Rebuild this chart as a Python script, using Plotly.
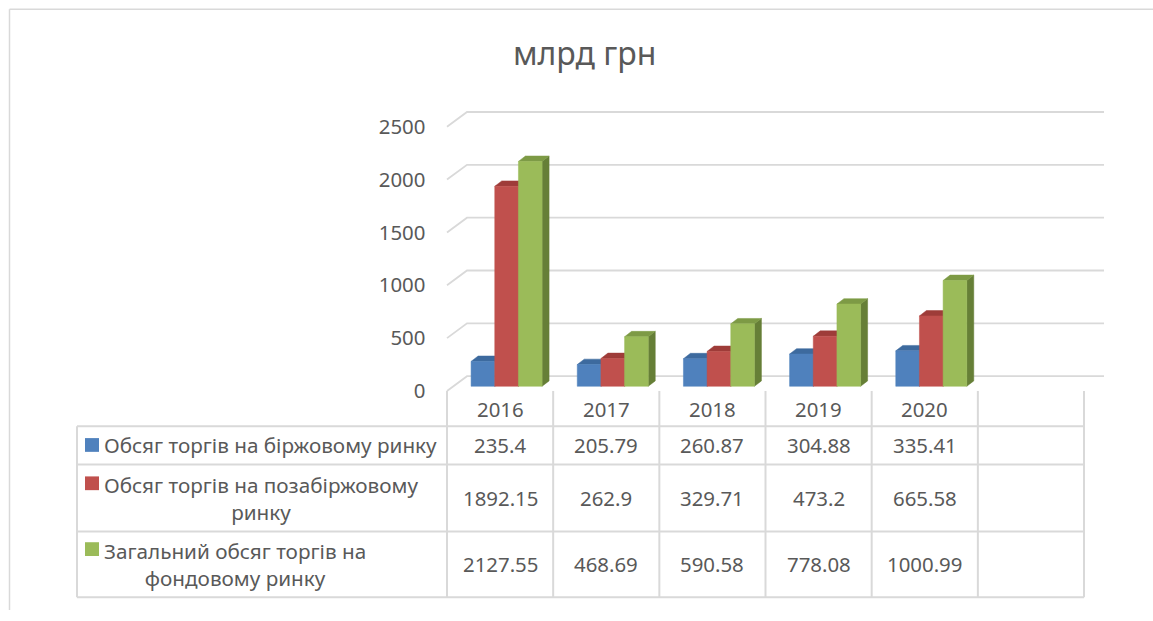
import plotly.graph_objects as go

# ---------------- data ----------------
years = ["2016", "2017", "2018", "2019", "2020", ""]
exchange = [235.4, 205.79, 260.87, 304.88, 335.41, None]
otc = [1892.15, 262.9, 329.71, 473.2, 665.58, None]
total = [2127.55, 468.69, 590.58, 778.08, 1000.99, None]
series_names = [
    "Обсяг торгів на біржовому ринку",
    "Обсяг торгів на позабіржовому<br>ринку",
    "Загальний обсяг торгів на<br>фондовому ринку",
]
y_ticks = [0, 500, 1000, 1500, 2000, 2500]
title_text = "млрд грн"

# ---------------- styling / geometry ----------------
W, H = 1153, 621
TXT = "#595959"
GRID = "#D9D9D9"
FONT = "Noto Sans"
front_cols = ["#4F81BD", "#C0504D", "#9BBB59"]
top_cols = ["#3D6A9E", "#9E3C39", "#7D9A45"]
side_cols = ["#365D8C", "#8C3533", "#667F37"]

PXX = 106.17          # px per category
PXY = 0.1076          # px per value unit
X0PX, Y0PX = 447, 398  # pixel of (-0.5, 0) on the front plane
xr = [-0.6, 5.72]
yr = [-20, 2660]

def px_x(x):
    return X0PX + (x + 0.5) * PXX

def px_y(v):
    return Y0PX - v * PXY

def paper_x(p):
    return p / W

def paper_y(p):
    return 1 - p / H

# depths (in data units)
wall_dx, wall_dy = 20 / PXX, 15 / PXY
bar_ox, bar_oy = 6.5 / PXX, 4.75 / PXY
bar_dx, bar_dy = 7 / PXX, 5.5 / PXY
bar_w = 23.67 / PXX

fig = go.Figure()

# back-wall gridlines with the left-wall diagonal
gx, gy = [], []
for v in y_ticks:
    gx += [-0.5, -0.5 + wall_dx, len(years) - 0.5 + wall_dx, None]
    gy += [v, v + wall_dy, v + wall_dy, None]
fig.add_trace(go.Scatter(x=gx, y=gy, mode="lines", line=dict(color=GRID, width=1.8),
                         hoverinfo="skip", showlegend=False))

# 3-D looking bars
all_series = [exchange, otc, total]
for s, vals in enumerate(all_series):
    fx, fy, tx, ty, sx, sy = [], [], [], [], [], []
    for i, v in enumerate(vals):
        if v is None:
            continue
        c = i + (s - 1) * bar_w + bar_ox
        x0, x1 = c - bar_w / 2, c + bar_w / 2
        b, t = bar_oy, v + bar_oy
        fx += [x0, x1, x1, x0, x0, None]
        fy += [b, b, t, t, b, None]
        tx += [x0, x1, x1 + bar_dx, x0 + bar_dx, x0, None]
        ty += [t, t, t + bar_dy, t + bar_dy, t, None]
        sx += [x1, x1 + bar_dx, x1 + bar_dx, x1, x1, None]
        sy += [b, b + bar_dy, t + bar_dy, t, b, None]
    for xs, ys, col in ((sx, sy, side_cols[s]), (tx, ty, top_cols[s]), (fx, fy, front_cols[s])):
        fig.add_trace(go.Scatter(x=xs, y=ys, mode="lines", fill="toself", fillcolor=col,
                                 line=dict(color=col, width=0.5), hoverinfo="skip",
                                 showlegend=False))

shapes = []
annotations = []

# chart frame
shapes.append(dict(type="line", xref="paper", yref="paper", x0=paper_x(9.5), x1=1,
                   y0=paper_y(9.5), y1=paper_y(9.5), line=dict(color=GRID, width=1.5)))
shapes.append(dict(type="line", xref="paper", yref="paper", x0=paper_x(9.5), x1=paper_x(9.5),
                   y0=paper_y(9.5), y1=0, line=dict(color=GRID, width=1.5)))

# data table
t_left, t_right = 77, 1084
row_lines = [434, 473, 541, 608]
tbl_bottom = row_lines[-1]
for i in range(len(years) + 1):
    shapes.append(dict(type="line", xref="x", yref="paper", x0=i - 0.5, x1=i - 0.5,
                       y0=paper_y(398), y1=paper_y(tbl_bottom), line=dict(color=GRID, width=2)))
shapes.append(dict(type="line", xref="paper", yref="paper", x0=paper_x(t_left), x1=paper_x(t_left),
                   y0=paper_y(row_lines[0]), y1=paper_y(tbl_bottom), line=dict(color=GRID, width=2)))
for r in row_lines:
    shapes.append(dict(type="line", xref="paper", yref="paper", x0=paper_x(t_left), x1=paper_x(t_right),
                       y0=paper_y(r), y1=paper_y(r), line=dict(color=GRID, width=2)))

# header (years)
for i, yv in enumerate(years):
    annotations.append(dict(x=i, y=paper_y(416), xref="x", yref="paper", text=yv, showarrow=False,
                            font=dict(size=20.4, color=TXT, family=FONT), xanchor="center", yanchor="middle"))

# rows
row_centers = [(row_lines[k] + row_lines[k + 1]) / 2 for k in range(3)]
key_centers = [453, 492, 559]
for s, vals in enumerate(all_series):
    annotations.append(dict(x=paper_x(102), y=paper_y(row_centers[s]), xref="paper", yref="paper",
                            text=series_names[s], showarrow=False, align="center",
                            font=dict(size=20.7, color=TXT, family=FONT), xanchor="left", yanchor="middle"))
    shapes.append(dict(type="rect", xref="paper", yref="paper", x0=paper_x(85), x1=paper_x(99),
                       y0=paper_y(key_centers[s] - 7), y1=paper_y(key_centers[s] + 7),
                       fillcolor=front_cols[s], line=dict(width=0)))
    for i, v in enumerate(vals):
        if v is None:
            continue
        annotations.append(dict(x=i, y=paper_y(row_centers[s]), xref="x", yref="paper", text=str(v),
                                showarrow=False, font=dict(size=20.4, color=TXT, family=FONT),
                                xanchor="center", yanchor="middle"))

# title
annotations.append(dict(x=paper_x(584), y=paper_y(53), xref="paper", yref="paper", text=title_text,
                        showarrow=False, font=dict(size=32, color=TXT, family=FONT),
                        xanchor="center", yanchor="middle"))

fig.update_layout(
    width=W, height=H,
    margin=dict(l=0, r=0, t=0, b=0),
    paper_bgcolor="white", plot_bgcolor="rgba(0,0,0,0)",
    showlegend=False,
    shapes=shapes, annotations=annotations,
    xaxis=dict(range=xr, domain=[paper_x(px_x(xr[0])), paper_x(px_x(xr[1]))],
               showgrid=False, zeroline=False, showline=False, showticklabels=False, fixedrange=True),
    yaxis=dict(range=yr, domain=[paper_y(px_y(yr[0])), paper_y(px_y(yr[1]))],
               tickvals=y_ticks, ticktext=[str(v) for v in y_ticks],
               tickfont=dict(size=20.4, color=TXT, family=FONT), ticks="", ticklabelstandoff=10,
               showgrid=False, zeroline=False, showline=False, fixedrange=True),
)

fig.write_html("out.html", config={"displayModeBar": False},
               post_script="document.body.style.margin='0';document.body.style.overflow='hidden';")
